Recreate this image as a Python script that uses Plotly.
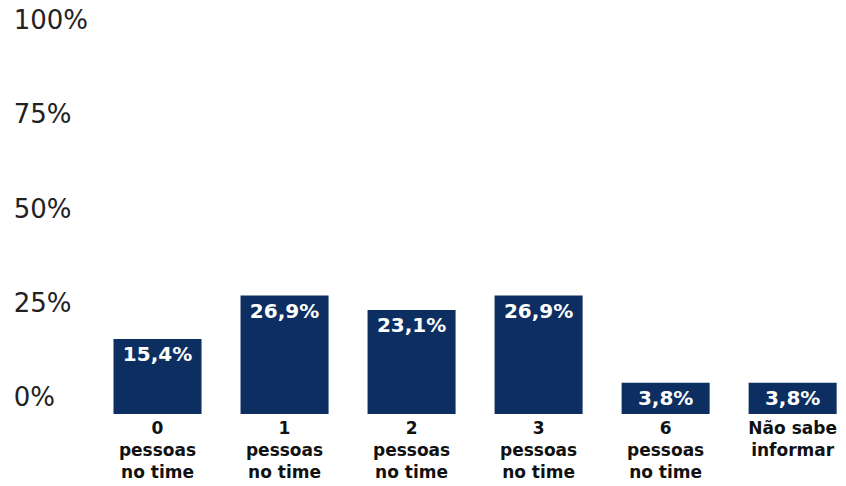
import plotly.graph_objects as go

categories = ["0<br>pessoas<br>no time", "1<br>pessoas<br>no time", "2<br>pessoas<br>no time",
              "3<br>pessoas<br>no time", "6<br>pessoas<br>no time", "Não sabe<br>informar"]
values = [15.4, 26.9, 23.1, 26.9, 3.8, 3.8]
labels = ["15,4%", "26,9%", "23,1%", "26,9%", "3,8%", "3,8%"]
tick_vals = [0, 25, 50, 75, 100]
fs = "\u2007"
tick_text = ["0%" + fs * 2, "25%" + fs, "50%" + fs, "75%" + fs, "100%"]

BAR = "#0d2e61"
BASE = -4.5

fig = go.Figure(go.Bar(
    x=list(range(len(categories))),
    y=[v - BASE for v in values],
    base=BASE,
    marker=dict(color=BAR, line=dict(width=0)),
    text=labels,
    textposition="inside",
    insidetextanchor="end",
    constraintext="none",
    textangle=0,
    textfont=dict(family="DejaVu Sans", size=20, color="white", weight="bold"),
    hoverinfo="skip",
))

fig.update_layout(
    width=846, height=486,
    margin=dict(l=94, r=0, t=20, b=72),
    paper_bgcolor="white", plot_bgcolor="white",
    bargap=0.307,
    showlegend=False,
    xaxis=dict(
        range=[-0.5, 5.42],
        tickvals=list(range(len(categories))),
        ticktext=categories,
        tickfont=dict(family="DejaVu Sans", size=17, color="#111111", weight="bold"),
        showgrid=False, zeroline=False, showline=False, ticks="",
        tickangle=0,
        ticklabelstandoff=2,
        automargin=False,
    ),
    yaxis=dict(
        range=[BASE, 100],
        tickvals=tick_vals,
        ticktext=tick_text,
        tickfont=dict(family="DejaVu Sans", size=26, color="#222222"),
        showgrid=False, zeroline=False, showline=False, ticks="",
        ticklabelstandoff=5,
        automargin=False,
    ),
)

fig.write_html("out.html")
